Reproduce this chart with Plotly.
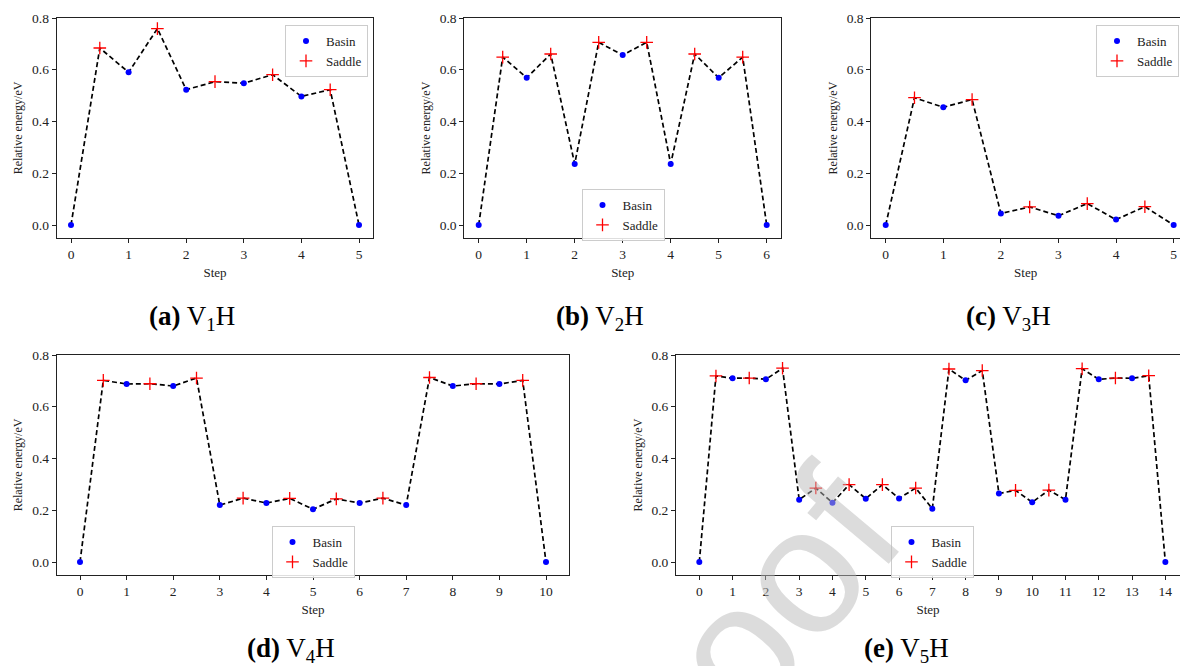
import plotly.graph_objects as go

# ---------------- data ----------------
# (a) V1H
a_basin_x = [0, 1, 2, 3, 4, 5]
a_basin_y = [0.0, 0.590, 0.523, 0.548, 0.497, 0.0]
a_saddle_x = [0.5, 1.5, 2.5, 3.5, 4.5]
a_saddle_y = [0.684, 0.759, 0.554, 0.581, 0.523]

# (b) V2H
b_basin_x = [0, 1, 2, 3, 4, 5, 6]
b_basin_y = [0.0, 0.569, 0.236, 0.657, 0.236, 0.569, 0.0]
b_saddle_x = [0.5, 1.5, 2.5, 3.5, 4.5, 5.5]
b_saddle_y = [0.649, 0.661, 0.706, 0.706, 0.661, 0.649]

# (c) V3H
c_basin_x = [0, 1, 2, 3, 4, 5]
c_basin_y = [0.0, 0.455, 0.045, 0.036, 0.021, 0.0]
c_saddle_x = [0.5, 1.5, 2.5, 3.5, 4.5]
c_saddle_y = [0.492, 0.485, 0.070, 0.083, 0.071]

# (d) V4H
d_basin_x = [0, 1, 2, 3, 4, 5, 6, 7, 8, 9, 10]
d_basin_y = [0.0, 0.688, 0.680, 0.220, 0.228, 0.204, 0.228, 0.220, 0.680, 0.688, 0.0]
d_saddle_x = [0.5, 1.5, 2.5, 3.5, 4.5, 5.5, 6.5, 7.5, 8.5, 9.5]
d_saddle_y = [0.702, 0.689, 0.711, 0.247, 0.246, 0.244, 0.247, 0.713, 0.689, 0.702]

# (e) V5H
e_basin_x = [0, 1, 2, 3, 4, 5, 6, 7, 8, 9, 10, 11, 12, 13, 14]
e_basin_y = [0.0, 0.710, 0.706, 0.241, 0.229, 0.245, 0.246, 0.206, 0.702, 0.265,
             0.231, 0.241, 0.706, 0.710, 0.0]
e_saddle_x = [0.5, 1.5, 2.5, 3.5, 4.5, 5.5, 6.5, 7.5, 8.5, 9.5, 10.5, 11.5, 12.5, 13.5]
e_saddle_y = [0.719, 0.711, 0.749, 0.286, 0.299, 0.299, 0.286, 0.746, 0.740, 0.277,
              0.278, 0.747, 0.711, 0.720]

captions = ["<b>(a)</b> V<sub>1</sub>H", "<b>(b)</b> V<sub>2</sub>H", "<b>(c)</b> V<sub>3</sub>H",
            "<b>(d)</b> V<sub>4</sub>H", "<b>(e)</b> V<sub>5</sub>H"]
basin_label = "Basin"
saddle_label = "Saddle"
x_title = "Step"
y_title = "Relative energy/eV"

# ---------------- layout geometry ----------------
W, H = 1180, 666
FONT = "Liberation Serif, Times New Roman, serif"

panels = [
    dict(bx=a_basin_x, by=a_basin_y, sx=a_saddle_x, sy=a_saddle_y,
         xd=[56.6, 373.4], yd=[18, 238], xr=[-0.25, 5.25], ticks=a_basin_x,
         leg=dict(x=368, y=25, xanchor="right"), mirror_y=True, cap=(192, 318)),
    dict(bx=b_basin_x, by=b_basin_y, sx=b_saddle_x, sy=b_saddle_y,
         xd=[464.3, 781.1], yd=[18, 238], xr=[-0.3, 6.3], ticks=b_basin_x,
         leg=dict(x=623, y=189, xanchor="center"), mirror_y=True, cap=(600, 318)),
    dict(bx=c_basin_x, by=c_basin_y, sx=c_saddle_x, sy=c_saddle_y,
         xd=[871.3, 1180], yd=[18, 238], xr=[-0.25, 5.11], ticks=c_basin_x,
         leg=dict(x=1096, y=25, xanchor="left"), mirror_y=False, cap=(1008, 318)),
    dict(bx=d_basin_x, by=d_basin_y, sx=d_saddle_x, sy=d_saddle_y,
         xd=[56.7, 569.3], yd=[355, 575], xr=[-0.5, 10.5], ticks=d_basin_x,
         leg=dict(x=313, y=526, xanchor="center"), mirror_y=True, cap=(291, 650)),
    dict(bx=e_basin_x, by=e_basin_y, sx=e_saddle_x, sy=e_saddle_y,
         xd=[676, 1180], yd=[355, 575], xr=[-0.7, 14.44], ticks=e_basin_x,
         leg=dict(x=932, y=526, xanchor="center"), mirror_y=False, cap=(906, 650)),
]

fig = go.Figure()
layout = dict(
    width=W, height=H,
    margin=dict(l=0, r=0, t=0, b=0, autoexpand=False),
    paper_bgcolor="white", plot_bgcolor="white",
    font=dict(family=FONT, size=13, color="#222222"),
    showlegend=True,
    annotations=[],
)

for i, p in enumerate(panels):
    n = i + 1
    sfx = "" if n == 1 else str(n)
    xa, ya = "x" + sfx, "y" + sfx
    leg = "legend" + sfx

    # merged path (basin and saddle interleaved by step)
    pts = sorted(list(zip(p["bx"], p["by"])) + list(zip(p["sx"], p["sy"])))
    fig.add_trace(go.Scatter(
        x=[q[0] for q in pts], y=[q[1] for q in pts], mode="lines",
        line=dict(color="black", width=1.7, dash="5px,3px"),
        showlegend=False, hoverinfo="skip", xaxis=xa, yaxis=ya))
    fig.add_trace(go.Scatter(
        x=p["bx"], y=p["by"], mode="markers", name=basin_label,
        marker=dict(color="blue", size=6, symbol="circle"),
        legend=leg, xaxis=xa, yaxis=ya))
    fig.add_trace(go.Scatter(
        x=p["sx"], y=p["sy"], mode="markers", name=saddle_label,
        marker=dict(color="red", size=9, symbol="cross-thin",
                    line=dict(color="red", width=1.3)),
        legend=leg, xaxis=xa, yaxis=ya))

    xd = [p["xd"][0] / W, p["xd"][1] / W]
    yd = [1 - p["yd"][1] / H, 1 - p["yd"][0] / H]
    layout["xaxis" + sfx] = dict(
        domain=xd, range=p["xr"], anchor=ya, automargin=False,
        tickmode="array", tickvals=p["ticks"], ticktext=[str(t) for t in p["ticks"]],
        ticks="outside", ticklen=4, tickwidth=1, tickcolor="#222",
        showline=True, linecolor="#222", linewidth=1, mirror=True,
        showgrid=False, zeroline=False,
        tickfont=dict(size=13.5, family=FONT, color="#222"),
        title=dict(text=x_title, standoff=6, font=dict(size=13, family=FONT, color="#222")),
    )
    layout["yaxis" + sfx] = dict(
        domain=yd, range=[-0.05, 0.8], anchor=xa, automargin=False,
        tickmode="array", tickvals=[0.0, 0.2, 0.4, 0.6, 0.8],
        ticktext=["0.0", "0.2", "0.4", "0.6", "0.8"],
        ticks="outside", ticklen=4, tickwidth=1, tickcolor="#222",
        showline=True, linecolor="#222", linewidth=1, mirror=p["mirror_y"],
        showgrid=False, zeroline=False,
        tickfont=dict(size=13.5, family=FONT, color="#222"),
        title=dict(text=y_title, standoff=6, font=dict(size=12, family=FONT, color="#222")),
    )
    L = p["leg"]
    layout[leg] = dict(
        x=L["x"] / W, y=1 - L["y"] / H, xanchor=L["xanchor"], yanchor="top",
        xref="paper", yref="paper",
        bgcolor="rgba(255,255,255,0.85)", bordercolor="#cccccc", borderwidth=1,
        font=dict(size=13, family=FONT, color="#222"),
        tracegroupgap=0, itemwidth=30,
    )
    cx, cy = p["cap"]
    layout["annotations"].append(dict(
        text=captions[i], x=cx / W, y=1 - cy / H, xref="paper", yref="paper",
        xanchor="center", yanchor="middle", showarrow=False,
        font=dict(size=27, family=FONT, color="black")))

# faint watermark seen across the lower part of the page
layout["annotations"].append(dict(
    text="Proof", x=724 / W, y=1 - 662 / H, xref="paper", yref="paper",
    xanchor="center", yanchor="middle", showarrow=False, textangle=-50,
    font=dict(size=180, family="Liberation Sans, Arial, sans-serif",
              color="rgba(185,185,185,0.5)")))

fig.update_layout(**layout)
fig.write_html("out.html",
               config={"displayModeBar": False},
               post_script="document.body.style.margin='0';document.body.style.overflow='hidden';")
